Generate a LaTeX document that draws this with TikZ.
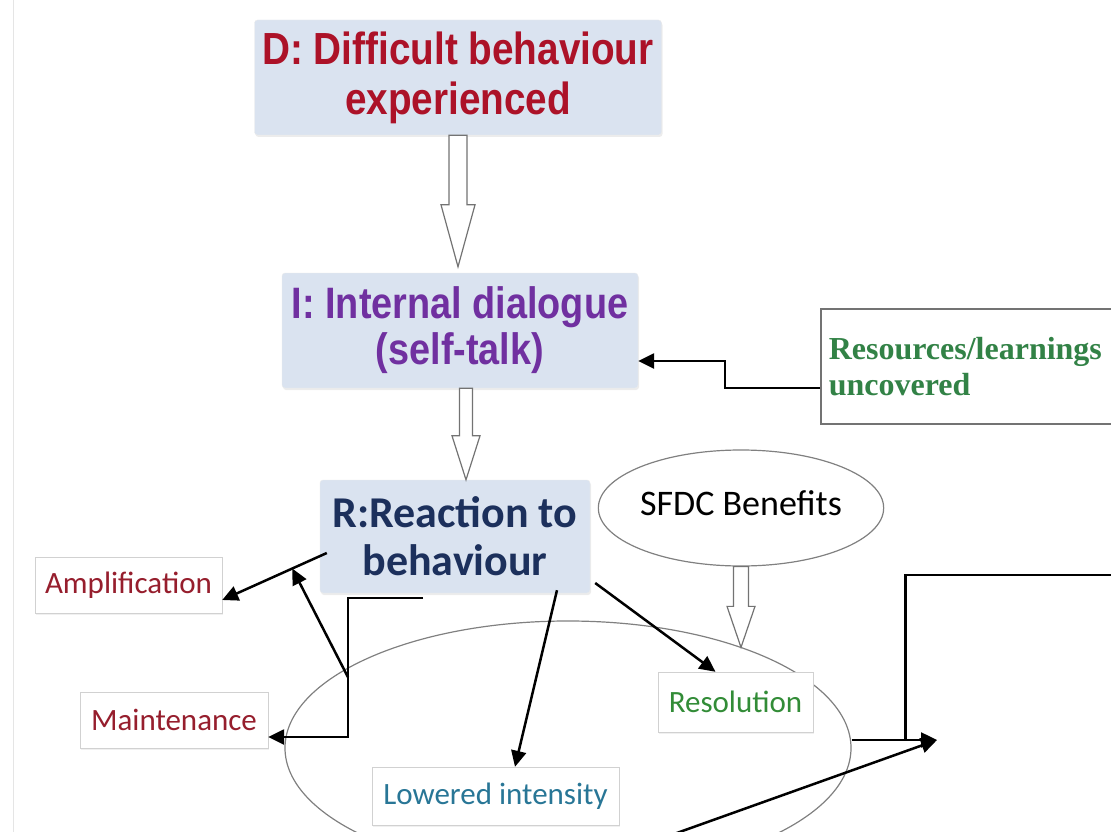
\documentclass[tikz,border=0pt]{standalone}
\usepackage{fontspec}
\setmainfont{Liberation Sans}
\newfontfamily\narrowsans[FakeStretch=0.86]{Liberation Sans}
\newfontfamily\calibrisub{Carlito}
\newfontfamily\timessub{Liberation Serif}
\usetikzlibrary{calc,positioning,shapes.geometric,arrows.meta,shadows}

\definecolor{boxblue}{RGB}{218,227,240}
\definecolor{dred}{RGB}{172,18,40}
\definecolor{dpurple}{RGB}{112,48,160}
\definecolor{dnavy}{RGB}{28,48,92}
\definecolor{ored}{RGB}{150,30,45}
\definecolor{ogreen}{RGB}{50,140,55}
\definecolor{oteal}{RGB}{40,118,150}
\definecolor{rgreen}{RGB}{50,130,70}

\tikzset{
  stage/.style={draw=black!8, fill=boxblue, rounded corners=3pt, align=center,
    inner sep=0pt, drop shadow={opacity=0.15,shadow xshift=1pt,shadow yshift=-2pt}},
  outcome/.style={draw=black!18, fill=white, inner sep=0pt,
    font=\calibrisub\fontsize{31}{36}\selectfont,
    drop shadow={opacity=0.12,shadow xshift=1pt,shadow yshift=-2pt}},
  conn/.style={line width=2.5pt, -{Triangle[length=16pt,width=15pt]}},
  plain/.style={line width=2.5pt},
  hollow/.style={draw=black!55, line width=1.2pt, fill=white},
  oval/.style={ellipse, draw=black!50, line width=1.2pt, inner sep=0pt}
}

% open block arrow pointing down: start, end, shaft half width, head half width, head length
\newcommand{\openarrow}[5]{%
  \draw[hollow] let \p1=(#1), \p2=(#2) in
    (\x1-#3,\y1) -- (\x1+#3,\y1) -- (\x1+#3,\y2+#5) -- (\x1+#4,\y2+#5)
    -- (\x1,\y2) -- (\x1-#4,\y2+#5) -- (\x1-#3,\y2+#5) -- cycle;}

\begin{document}
\begin{tikzpicture}[x=1pt,y=-1pt]
  \useasboundingbox (0,0) rectangle (1111,832);
  \draw[black!10, line width=1pt] (13,0) -- (13,832);

  % outcome region
  \node[oval, minimum width=566pt, minimum height=254pt] (outcomes) at (568,748) {};
  \node[oval, minimum width=224pt, minimum height=116pt, text depth=10pt,
    font=\calibrisub\fontsize{36}{40}\selectfont] (sfdc) at (741,508) {SFDC Benefits};

  % D-I-R stages
  \node[stage, minimum width=407pt, minimum height=115pt, text=dred,
    font=\narrowsans\bfseries\fontsize{45}{50}\selectfont] (dbox) at (458,77.5)
    {D: Difficult behaviour\\experienced};
  \node[stage, minimum width=356pt, minimum height=115pt, text=dpurple,
    font=\narrowsans\bfseries\fontsize{44}{46}\selectfont] (ibox) at (460,330.5)
    {I: Internal dialogue\\(self-talk)};
  \node[stage, minimum width=270pt, minimum height=113pt, text=dnavy,
    font=\calibrisub\bfseries\fontsize{44}{48}\selectfont] (rbox) at (455,536.5)
    {R:Reaction to\\behaviour};

  \node[draw=black!55, line width=1.5pt, fill=white, anchor=north west,
    minimum height=115pt, text width=294pt, inner sep=8pt, align=left, text=rgreen,
    font=\timessub\bfseries\fontsize{32}{36}\selectfont] (resources) at (820,308)
    {Resources/learnings\\uncovered};

  % outcomes
  \node[outcome, minimum width=187pt, minimum height=56pt, text=ored] (ampl) at (128.5,585) {Amplification};
  \node[outcome, minimum width=188pt, minimum height=56pt, text=ored] (maint) at (174,720) {Maintenance};
  \node[outcome, minimum width=155pt, minimum height=60pt, text=ogreen] (resol) at (735.5,702) {Resolution};
  \node[outcome, minimum width=247pt, minimum height=58pt, text=oteal] (lowered) at (495.5,796) {Lowered intensity};

  % block arrows
  \openarrow{dbox.south}{[yshift=6pt]ibox.north}{9pt}{17pt}{62pt}
  \openarrow{[xshift=6pt]ibox.south}{rbox.north}{6.5pt}{14pt}{44pt}
  \openarrow{sfdc.south}{outcomes.30}{7.5pt}{14pt}{41pt}

  % connectors
  \draw[conn] ([yshift=-21.5pt]resources.west) -- ++(-95,0) |- ([yshift=-30.5pt]ibox.east);

  \coordinate (astart) at ([shift={(7pt,-16.5pt)}]rbox.west);
  \coordinate (aend) at ([yshift=-15pt]ampl.east);
  \draw[conn] (astart) -- (aend);

  \coordinate (mstart) at ([shift={(-32pt,-5pt)}]rbox.south);
  \draw[conn] (mstart) -- ++(-75,0) coordinate (mbend) |- ([yshift=-17pt]maint.east);
  \coordinate (fork) at ($(mbend)+(0,79)$);
  \draw[conn] (fork) -- ($(astart)!0.33!(aend)$);

  \draw[conn] ([shift={(102pt,3pt)}]rbox.south) -- ([xshift=19.5pt]lowered.north);
  \draw[conn] ([shift={(5pt,-46.5pt)}]rbox.east) -- ([xshift=-20pt]resol.north);

  \coordinate (target) at (937,740);
  \coordinate (exit) at (1115,575);
  \coordinate (inflow) at (660,839);
  \draw[conn] ([yshift=8pt]outcomes.east) -- (target);
  \draw[plain] ($(outcomes.east)+(54,-8)$) |- (exit);
  \draw[conn] (inflow) -- (target);
\end{tikzpicture}
\end{document}
